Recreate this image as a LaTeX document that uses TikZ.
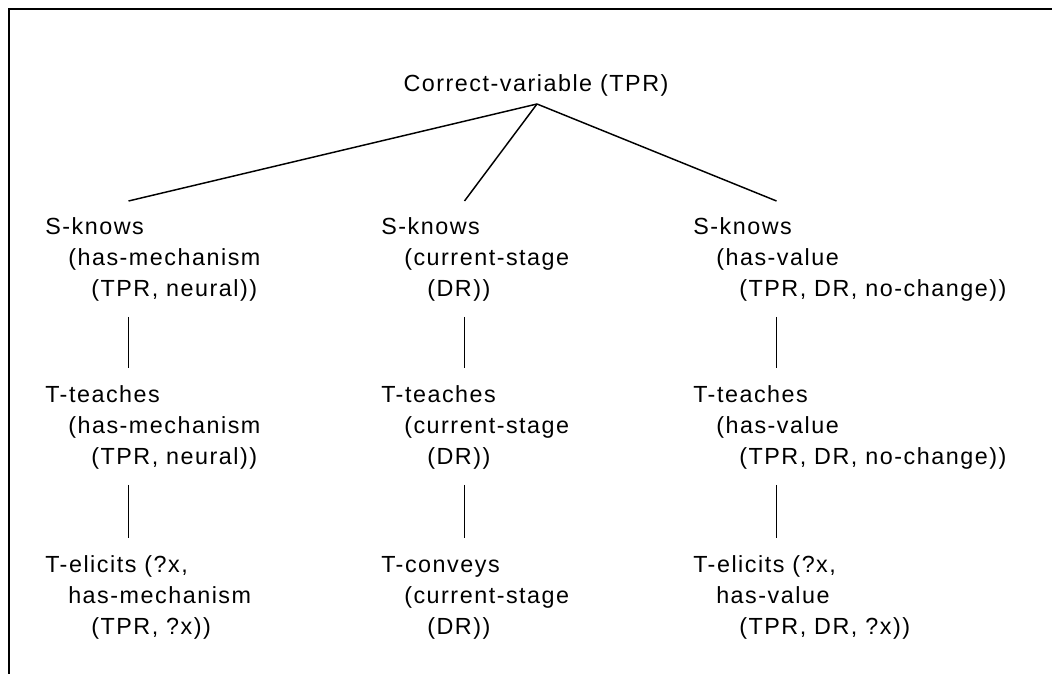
\documentclass[tikz,border=0pt]{standalone}
\usepackage{fontspec}
\setmainfont{Liberation Sans}[LetterSpace=6.5]
\newcommand{\gind}{\hspace*{17.25pt}}

\begin{document}
\begin{tikzpicture}[x=0.75pt,y=0.75pt,
  goal/.style={anchor=base west, align=left, inner sep=0pt,
    font=\fontsize{17.5}{23.25}\selectfont},
  link/.style={line width=1.1pt}]
  \useasboundingbox (0,0) rectangle (1052,674);
  % ---- frame ----
  \draw[line width=1.5pt] (1052,665) -| (9,0);
  % ---- root goal ----
  \node[goal, anchor=base] (root) at (536,582) {Correct-variable (TPR)};
  % ---- left column: mechanism ----
  \node[goal] (s1) at (45,377) {S-knows\\\gind(has-mechanism\\\gind\gind(TPR, neural))};
  \node[goal] (t1) at (45,209) {T-teaches\\\gind(has-mechanism\\\gind\gind(TPR, neural))};
  \node[goal] (e1) at (45,39) {T-elicits (?x,\\\gind has-mechanism\\\gind\gind(TPR, ?x))};
  % ---- middle column: stage ----
  \node[goal] (s2) at (381,377) {S-knows\\\gind(current-stage\\\gind\gind(DR))};
  \node[goal] (t2) at (381,209) {T-teaches\\\gind(current-stage\\\gind\gind(DR))};
  \node[goal] (e2) at (381,39) {T-conveys\\\gind(current-stage\\\gind\gind(DR))};
  % ---- right column: value ----
  \node[goal] (s3) at (693,377) {S-knows\\\gind(has-value\\\gind\gind(TPR, DR, no-change))};
  \node[goal] (t3) at (693,209) {T-teaches\\\gind(has-value\\\gind\gind(TPR, DR, no-change))};
  \node[goal] (e3) at (693,39) {T-elicits (?x,\\\gind has-value\\\gind\gind(TPR, DR, ?x))};
  % ---- tree links ----
  \foreach \c in {1,2,3} {
    \draw[link] ([shift={(1,-12)}]root.base) -- ([shift={(83.5,96)}]s\c.base west);
    \draw[link] ([shift={(83.5,-20)}]s\c.base west) -- ([shift={(83.5,97)}]t\c.base west);
    \draw[link] ([shift={(83.5,-20)}]t\c.base west) -- ([shift={(83.5,97)}]e\c.base west);
  }
\end{tikzpicture}
\end{document}
